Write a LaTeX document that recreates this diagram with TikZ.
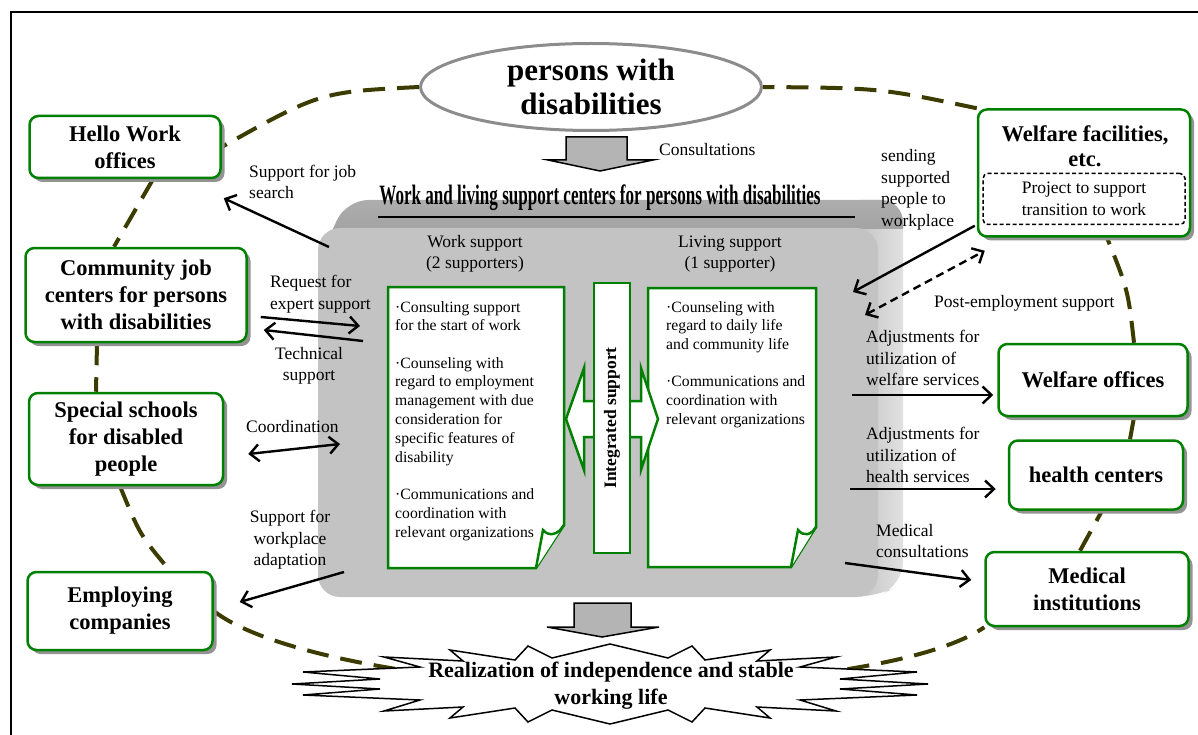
\documentclass[tikz,border=0pt]{standalone}
\usepackage{fontspec}
\setmainfont{Liberation Serif}
\usetikzlibrary{arrows.meta,shapes.geometric,shadows,calc}
\pgfdeclarelayer{back}
\pgfsetlayers{back,main}

\definecolor{boxgreen}{RGB}{0,128,0}
\definecolor{ringolive}{RGB}{60,60,0}
\definecolor{facegray}{RGB}{195,195,195}
\definecolor{bandgray}{RGB}{222,222,222}
\definecolor{topgray}{RGB}{175,175,175}
\definecolor{blockgray}{RGB}{180,180,180}
\definecolor{ovalgray}{RGB}{140,140,140}

\tikzset{
  orgbox/.style={draw=boxgreen, line width=2.5pt, fill=white, rounded corners=9pt,
    align=center, inner sep=0pt, font=\fontsize{22.5}{27}\selectfont\bfseries,
    drop shadow={shadow xshift=4pt, shadow yshift=-4pt, fill=gray!85, opacity=1}},
  lbl/.style={align=left, inner sep=0pt, font=\fontsize{17.5}{21.5}\selectfont},
  doctext/.style={align=left, inner sep=0pt, font=\fontsize{15.7}{18.8}\selectfont},
  arr/.style={line width=2.4pt, -{Straight Barb[length=9pt,width=17pt]}},
  twoarr/.style={line width=2.4pt, {Straight Barb[length=9pt,width=17pt]}-{Straight Barb[length=9pt,width=17pt]}},
  ring/.style={draw=ringolive, line width=4pt, dash pattern=on 22pt off 12pt},
  docpage/.style={draw=boxgreen, line width=2.5pt, fill=white},
  blockarrow/.style={draw=black, line width=1.5pt, fill=blockgray}
}

\begin{document}
\begin{tikzpicture}[x=1pt,y=1pt,yscale=-1]
\useasboundingbox (0,0) rectangle (1198,735);

% frame
\draw[line width=1.5pt] (11,735) -- (11,12) -- (1198,12);

% persons with disabilities
\node[ellipse, draw=ovalgray, line width=3pt, fill=white, minimum width=341pt, minimum height=87pt,
  inner sep=0pt, align=center, font=\fontsize{31}{34}\selectfont\bfseries] (oval) at (591,87) {persons with\\disabilities};

% left side organisations
\node[orgbox, minimum width=191pt, minimum height=62pt] (hello) at (125,147) {Hello Work\\offices};
\node[orgbox, minimum width=221pt, minimum height=94pt] (community) at (136,295) {Community job\\centers for persons\\with disabilities};
\node[orgbox, minimum width=194pt, minimum height=92pt] (special) at (126,439) {Special schools\\for disabled\\people};
\node[orgbox, minimum width=185pt, minimum height=78pt] (employ) at (120,611) {Employing\\companies};

% right side organisations
\node[orgbox, minimum width=212pt, minimum height=127pt] (welfac) at (1084,173) {};
\node[inner sep=0pt, align=center, font=\fontsize{22.5}{25}\selectfont\bfseries] (welfactitle) at (1085,146) {Welfare facilities,\\etc.};
\node[lbl, align=center, draw, line width=1.5pt, dash pattern=on 4pt off 2.5pt, rounded corners=5pt,
  minimum width=202pt, minimum height=51pt] (project) at (1084,199) {Project to support\\transition to work};
\node[orgbox, minimum width=189pt, minimum height=72pt] (welfoff) at (1093,380) {Welfare offices};
\node[orgbox, minimum width=174pt, minimum height=69pt] (health) at (1096,475) {health centers};
\node[orgbox, minimum width=203pt, minimum height=74pt] (medical) at (1087,589) {Medical\\institutions};

% support center block
\begin{scope}
  \clip[rounded corners=22pt] (318,262) -- (346,200) -- (903,200) -- (903,584) -- (876,597) -- (318,597) -- cycle;
  \shade[left color=gray!45, right color=gray!20] (860,195) rectangle (910,600);
  \shade[top color=topgray, bottom color=gray!72] (300,195) rectangle (905,229);
\end{scope}
\fill[facegray, rounded corners=22pt] (318,228) rectangle (878,597);
\node[inner sep=0pt, anchor=base, font=\fontsize{28}{28}\selectfont\bfseries] (centertitle) at (600,205)
  {\scalebox{0.61}[1]{Work and living support centers for persons with disabilities}};
\draw[line width=2pt] (378,217) -- (855,217);

\node[lbl, align=center] (worksup) at (475,254) {Work support\\(2 supporters)};
\node[lbl, align=center] (livesup) at (730,254) {Living support\\(1 supporter)};

% pages
\draw[docpage] (388,287) -- (564,287) -- (564,525) -- (536,568) -- (388,568) -- cycle;
\draw[docpage] (536,568) -- (543,530) .. controls (549,537) and (558,535) .. (564,525);
\draw[docpage] (648,288) -- (816,288) -- (816,527) -- (791,567) -- (648,567) -- cycle;
\draw[docpage] (791,567) -- (798,530) .. controls (804,537) and (811,535) .. (816,527);

\node[doctext, anchor=north west] (worktext) at (395,301) {%
  ·Consulting support\\for the start of work\\[18.5pt]%
  ·Counseling with\\regard to employment\\management with due\\consideration for\\specific features of\\disability\\[18.5pt]%
  ·Communications and\\coordination with\\relevant organizations};
\node[doctext, anchor=north west] (livetext) at (666,301) {%
  ·Counseling with\\regard to daily life\\and community life\\[18.5pt]%
  ·Communications and\\coordination with\\relevant organizations};

% integrated support
\draw[docpage] (566,419) -- (584,368) -- (584,401) -- (641,401) -- (641,368) -- (658,419)
  -- (641,470) -- (641,437) -- (584,437) -- (584,470) -- cycle;
\node[draw=boxgreen, line width=2.5pt, fill=white, minimum width=36pt, minimum height=270pt, inner sep=0pt] (integ) at (612,418) {};
\node[rotate=90, inner sep=0pt, font=\fontsize{17.5}{20}\selectfont\bfseries] (integtext) at (integ.center) {Integrated support};

% block arrows
\draw[blockarrow] (566,137) -- (627,137) -- (627,160) -- (653,160) -- (600,171) -- (548,160) -- (566,160) -- cycle;
\draw[blockarrow] (574,603) -- (631,603) -- (631,627) -- (659,627) -- (602,637) -- (547,627) -- (574,627) -- cycle;

% goal
\draw[fill=white, line width=1.5pt] (610,644) -- (668,658) -- (692,646) -- (705,660) -- (770,650) -- (757,661)
  -- (836,657) -- (800,667) -- (917,672) -- (840,679) -- (928,684) -- (840,689) -- (917,695) -- (800,700)
  -- (836,711) -- (757,707) -- (770,718) -- (705,708) -- (692,722) -- (668,710) -- (610,724)
  -- (552,710) -- (528,722) -- (515,708) -- (450,718) -- (463,707) -- (384,711) -- (420,700)
  -- (303,695) -- (380,689) -- (292,684) -- (380,679) -- (303,672) -- (420,667) -- (384,657)
  -- (463,661) -- (450,650) -- (515,660) -- (528,646) -- (552,658) -- cycle;
\node[inner sep=0pt, align=center, font=\fontsize{22}{27}\selectfont\bfseries] (goal) at (611,686)
  {Realization of independence and stable\\working life};

% ring
\begin{pgfonlayer}{back}
\draw[ring] (oval.west) .. controls (320,92) .. (hello.east);
\draw[ring] ($(hello.south)+(28,0)$) -- ($(community.north)+(-22,0)$);
\draw[ring] ($(community.south)+(-39,0)$) -- ($(special.north)+(-30,0)$);
\draw[ring] ($(special.south)+(-6,0)$) .. controls (140,535) .. ($(employ.north)+(50,0)$);
\draw[ring] (employ.east) .. controls (270,655) and (450,686) .. (goal.center)
  .. controls (770,686) and (930,665) .. (medical.south west);
\draw[ring] ($(medical.north)+(-7,0)$) -- ($(health.south)+(6,0)$);
\draw[ring] ($(health.north)+(34,0)$) -- ($(welfoff.south)+(41,0)$);
\draw[ring] ($(welfoff.north)+(41,0)$) .. controls (1128,290) .. ($(welfac.south)+(23,0)$);
\draw[ring] (welfac.north west) .. controls (880,88) .. (oval.east);
\end{pgfonlayer}

% connectors
\coordinate (jobfrom) at (329,247);
\coordinate (reqto) at (360,326);
\coordinate (techfrom) at (363,341);
\coordinate (coordto) at (340,444);
\coordinate (adaptfrom) at (344,572);
\coordinate (sendto) at (853,292);
\coordinate (postto) at (865,315);
\coordinate (welffrom) at (852,395);
\coordinate (healthfrom) at (850,489);
\coordinate (medfrom) at (845,563);

\draw[arr] (jobfrom) -- ($(hello.south east)+(2,19)$);
\draw[arr] ($(community.east)+(13,22)$) -- (reqto);
\draw[arr] (techfrom) -- ($(community.east)+(16,35)$);
\draw[twoarr] ($(special.east)+(24,15)$) -- (coordto);
\draw[arr] (adaptfrom) -- ($(employ.east)+(26,-9)$);
\draw[arr] ($(welfac.south west)+(-2,-12)$) -- (sendto);
\draw[twoarr, dash pattern=on 8pt off 5pt] (postto) -- ($(welfac.south west)+(8,13)$);
\draw[arr] (welffrom) -- ($(welfoff.west)+(-4,15)$);
\draw[arr] (healthfrom) -- ($(health.west)+(-12,14)$);
\draw[arr] (medfrom) -- ($(medical.west)+(-13,-9)$);

% labels
\node[lbl, anchor=west] (joblbl) at (249,182) {Support for job\\search};
\node[lbl, anchor=west] (reqlbl) at (270,294) {Request for\\expert support};
\node[lbl, align=center] (techlbl) at (309,366) {Technical\\support};
\node[lbl, anchor=west] (coordlbl) at (246,427) {Coordination};
\node[lbl, align=center] (adaptlbl) at (290,540) {Support for\\workplace\\adaptation};
\node[lbl, anchor=west] (consultlbl) at (659,150) {Consultations};
\node[lbl, anchor=west] (sendlbl) at (881,190) {sending\\supported\\people to\\workplace};
\node[lbl, anchor=west] (postlbl) at (934,303) {Post-employment support};
\node[lbl, anchor=west] (welflbl) at (866,358) {Adjustments for\\utilization of\\welfare services};
\node[lbl, anchor=west] (healthlbl) at (866,455) {Adjustments for\\utilization of\\health services};
\node[lbl, anchor=west] (medlbl) at (876,541) {Medical\\consultations};

\end{tikzpicture}
\end{document}
